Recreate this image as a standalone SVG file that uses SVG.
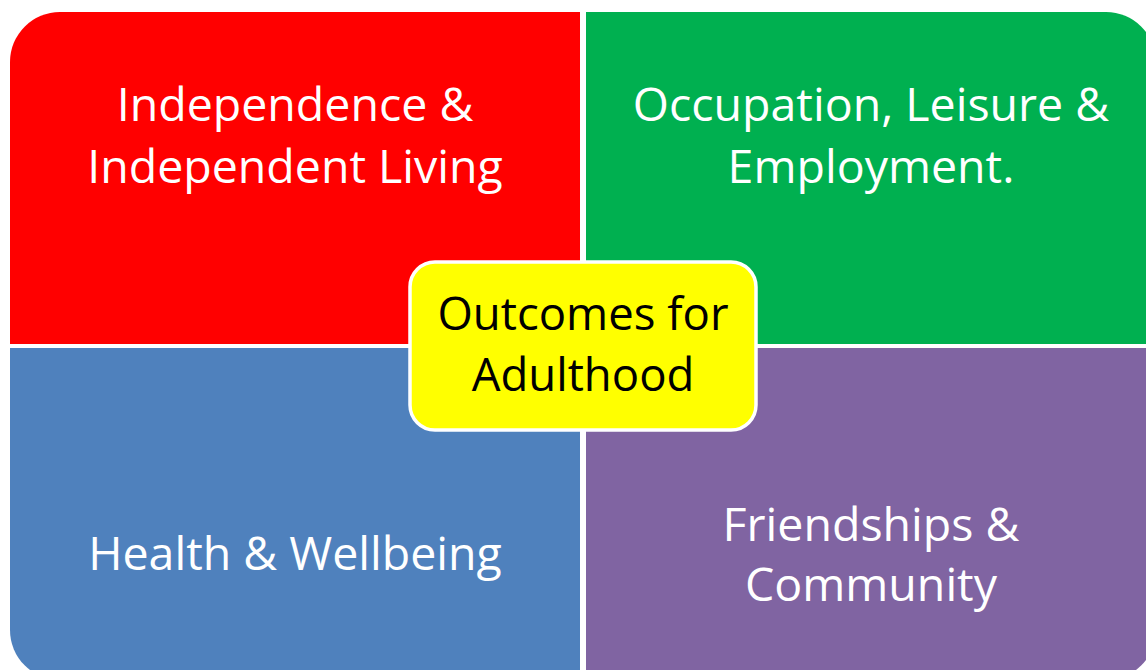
<svg xmlns="http://www.w3.org/2000/svg" width="1146" height="670" viewBox="0 0 1146 670">
<style>
.t{font-family:"Open Sans","Noto Sans","Liberation Sans",sans-serif;font-size:46.5px;text-anchor:middle;fill:#fff}
.c{fill:#000;font-size:45.5px}
</style>
<rect width="1146" height="670" fill="#fff"/>
<g id="independence">
<path d="M10,344 V62 A50,50 0 0 1 60,12 H580 V344 Z" fill="#FF0000"/>
<text class="t" x="295" y="121">Independence &amp;</text>
<text class="t" x="295" y="183">Independent Living</text>
</g>
<g id="occupation">
<path d="M586,12 H1106 A50,50 0 0 1 1156,62 V344 H586 Z" fill="#00B050"/>
<text class="t" x="871" y="121">Occupation, Leisure &amp;</text>
<text class="t" x="871" y="183">Employment.</text>
</g>
<g id="health">
<path d="M10,348 H580 V680 H60 A50,50 0 0 1 10,630 Z" fill="#4F81BD"/>
<text class="t" x="295" y="570">Health &amp; Wellbeing</text>
</g>
<g id="friendships">
<path d="M586,348 H1156 V630 A50,50 0 0 1 1106,680 H586 Z" fill="#8064A2"/>
<text class="t" x="871" y="541">Friendships &amp;</text>
<text class="t" x="871" y="601">Community</text>
</g>
<g id="outcomes">
<rect x="410" y="262" width="346" height="168" rx="25" fill="#FFFF00" stroke="#fff" stroke-width="3.5"/>
<text class="t c" x="583" y="330">Outcomes for</text>
<text class="t c" x="583" y="391">Adulthood</text>
</g>
<g id="connectors"/>
</svg>
